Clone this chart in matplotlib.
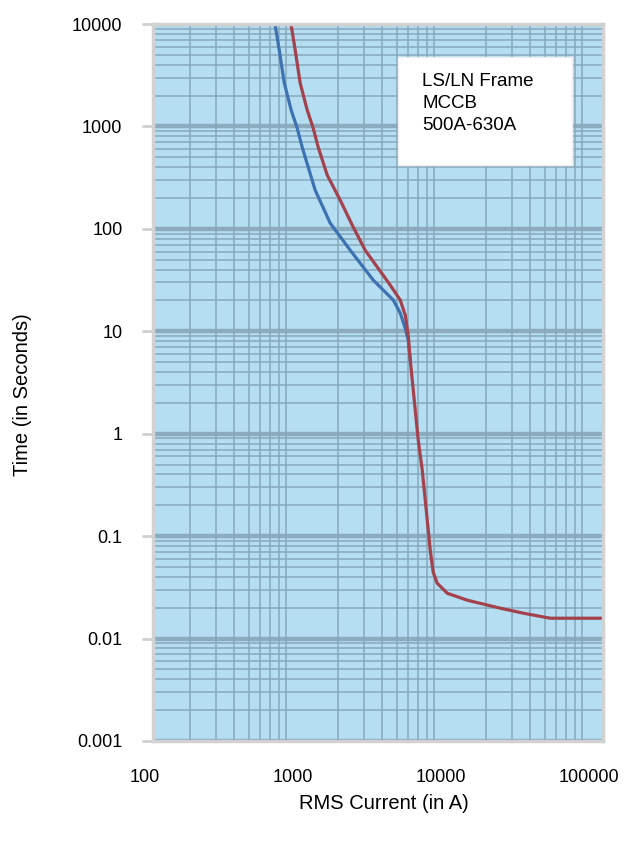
import numpy as np
import matplotlib
matplotlib.use("Agg")
import matplotlib.pyplot as plt
from matplotlib.patches import Rectangle
from matplotlib.ticker import LogLocator, NullFormatter

plt.rcParams['font.family'] = ['Liberation Sans', 'DejaVu Sans']

# ---------- DATA ----------
red_current = [969, 1032, 1115, 1244, 1365, 1475, 1698, 2078, 2505, 3063, 3698, 4522,
               5287, 5715, 5986, 6180, 6577, 6998, 7447, 7924, 8431, 8831, 9397,
               10990, 15000, 25060, 35840, 54500, 124000]
red_time = [9775, 5570, 2653, 1447, 965, 629, 335, 191, 109, 62, 42.4, 28.3,
            20.2, 14.4, 9.2, 5.23, 2.13, 0.865, 0.441, 0.180, 0.073, 0.0445, 0.0347,
            0.0277, 0.0237, 0.0198, 0.0177, 0.0158, 0.0158]

blue_current = [755, 805, 871, 969, 1064, 1150, 1408, 1778, 2427, 3475, 4742,
                5287, 5715, 5986, 6180]
blue_time = [9775, 5570, 2653, 1447, 965, 629, 239, 114, 62, 31.6, 20.2,
             15.1, 10.7, 8.2, 5.23]

x_ticks = [100, 1000, 10000, 100000]
x_tick_labels = ["100", "1000", "10000", "100000"]
y_ticks = [0.001, 0.01, 0.1, 1, 10, 100, 1000, 10000]
y_tick_labels = ["0.001", "0.01", "0.1", "1", "10", "100", "1000", "10000"]

box_lines = ["LS/LN Frame", "MCCB", "500A-630A"]

# ---------- PLOT ----------
fig = plt.figure(figsize=(6.24, 8.43), dpi=100)
ax = fig.add_axes([0.2452, 0.1210, 0.7212, 0.8505])
ax.set_xscale("log")
ax.set_yscale("log")
ax.set_xlim(113, 124000)
ax.set_ylim(0.001, 10000)
ax.set_facecolor("#b6def2")

# graph-paper grid
ax.xaxis.set_minor_locator(LogLocator(base=10, subs=np.arange(2, 10)))
ax.yaxis.set_minor_locator(LogLocator(base=10, subs=np.arange(2, 10)))
ax.grid(True, which="major", color="#88a6ba", linewidth=3.2, alpha=0.9)
ax.grid(True, which="minor", color="#86a5b9", linewidth=1.4, alpha=0.75)
ax.set_axisbelow(True)

ax.plot(blue_current, blue_time, color="#3d72b2", linewidth=2.3,
        solid_joinstyle="round")
ax.plot(red_current, red_time, color="#a3424c", linewidth=2.3,
        solid_joinstyle="round")

# y ticks
ax.set_yticks(y_ticks)
ax.set_yticklabels(y_tick_labels)
ax.yaxis.set_minor_formatter(NullFormatter())
ax.tick_params(axis="y", which="major", length=8, width=2, color="#d0d0d0",
               pad=14, labelsize=13)
ax.tick_params(axis="y", which="minor", length=0)

# x ticks drawn as text (labels sit a bit left of the frame)
ax.set_xticks([])
ax.tick_params(axis="x", which="both", length=0, labelbottom=False)
for xv, lab in zip(x_ticks, x_tick_labels):
    ax.text(xv, -0.051, lab, transform=ax.get_xaxis_transform(), ha="center",
            va="center", fontsize=13, clip_on=False)

for side in ["top", "bottom", "left", "right"]:
    ax.spines[side].set_color("#d2d2d2")
    ax.spines[side].set_linewidth(2.5)

# label box
ax.add_patch(Rectangle((0.544, 0.803), 0.387, 0.151, transform=ax.transAxes,
                       facecolor="white", edgecolor="#eeeeee", linewidth=1, zorder=5))
ax.text(0.598, 0.932, "\n".join(box_lines), transform=ax.transAxes, ha="left",
        va="top", fontsize=13.5, linespacing=1.38, zorder=6)

fig.text(0.615, 0.047, "RMS Current (in A)", ha="center", va="center", fontsize=14.5)
fig.text(0.036, 0.532, "Time (in Seconds)", ha="center", va="center",
         rotation=90, fontsize=14.5)

fig.savefig("out.png", dpi=100)
